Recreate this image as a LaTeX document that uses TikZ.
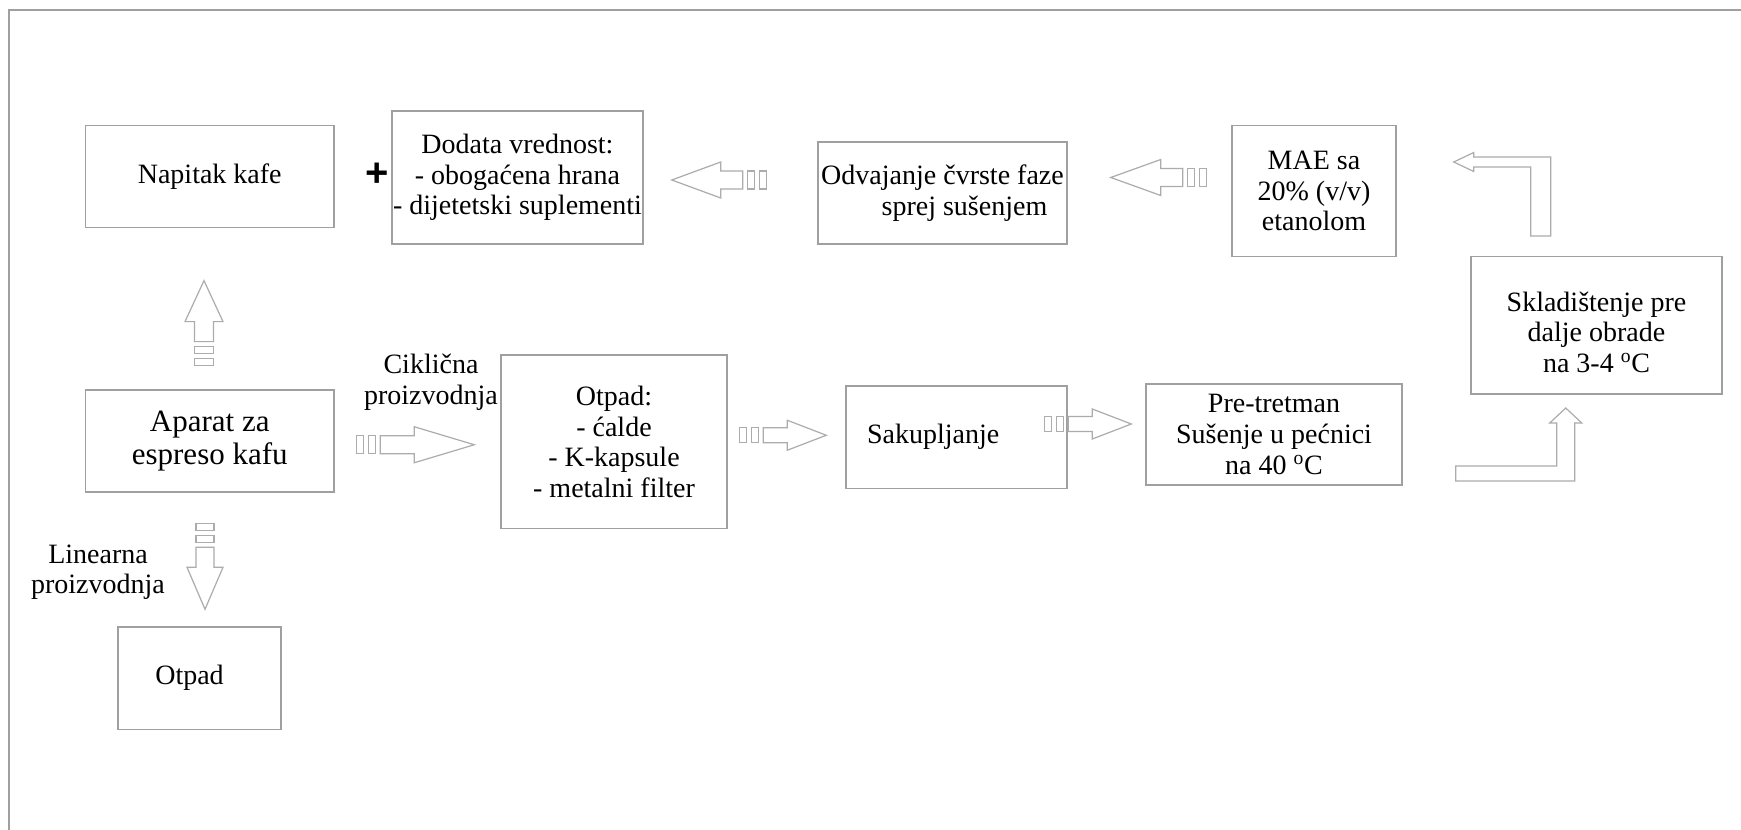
\documentclass[tikz,border=0pt]{standalone}
\usepackage{fontspec}
\setmainfont{Liberation Serif}
\setsansfont{Liberation Sans}
\usetikzlibrary{calc}

\definecolor{boxgray}{RGB}{160,160,160}
\definecolor{arrowgray}{RGB}{172,172,172}

\tikzset{
	pics/hollow arrow/.style n args={3}{code={
		\draw[arrowline] (0,0) -- (-#1,#3) -- (-#1,#3/2) -- (-#1-#2,#3/2) -- (-#1-#2,-#3/2) -- (-#1,-#3/2) -- (-#1,-#3) -- cycle;
		\draw[arrowline] (-#1-#2-5,-#3/2) rectangle ++(-7,#3);
		\draw[arrowline] (-#1-#2-17,-#3/2) rectangle ++(-7,#3);
	}}
}

\begin{document}
\begin{tikzpicture}[x=0.75pt,y=-0.75pt,
	box/.style 2 args={draw=boxgray,line width=1.1pt,fill=white,align=center,inner sep=0pt,minimum width=#1*0.75pt,minimum height=#2*0.75pt,font=\fontsize{21}{22.9}\selectfont},
	lbl/.style={align=center,font=\fontsize{21}{22.9}\selectfont},
	arrowline/.style={draw=arrowgray,line width=0.9pt,line join=miter}]
		\useasboundingbox (0,0) rectangle (1741,830);
		\fill[white] (0,0) rectangle (1741,830);
		\draw[boxgray,line width=1.1pt] (9,830) -- (9,10) -- (1741,10);
		
		\node[box={248.5}{102}] (napitak) at (209.75,176.5) {Napitak kafe};
		\node[box={251}{133}] (dodata) at (517.5,177.5) {Dodata vrednost:\\- obogaćena hrana\\- dijetetski suplementi};
		\node[box={249}{102}] (odvajanje) at (942.5,193) {Odvajanje čvrste faze\\\hspace*{33pt}sprej sušenjem};
		\node[box={164}{131}] (mae) at (1314,191) {MAE sa\\20\% (v/v)\\etanolom};
		\node[box={251}{137.5}] (skladistenje) at (1596.5,325.25) {};
		\node[lbl] (skladistenjetxt) at ($(skladistenje.center)+(0,7)$) {Skladištenje pre\\dalje obrade\\na 3-4 \textsuperscript{o}C};
		\node[box={248.5}{102},font=\fontsize{23.25}{24.8}\selectfont] (aparat) at (209.75,441) {Aparat za\\espreso kafu};
		\node[box={226}{173.5}] (otpadlist) at (614,441.75) {Otpad:\\- ćalde\\- K-kapsule\\- metalni filter};
		\node[box={221}{102.5}] (sakupljanje) at (956.5,437.25) {Sakupljanje\hspace*{35pt}};
		\node[box={256}{101}] (pretretman) at (1274,434.5) {Pre-tretman\\Sušenje u pećnici\\na 40 \textsuperscript{o}C};
		\node[box={163}{102.5}] (otpad) at (199.5,678.25) {Otpad\hspace*{15pt}};
		
		\node[lbl] (ciklicna) at (431,382) {Ciklična\\proizvodnja};
		\node[lbl] (linearna) at (98,572) {Linearna\\proizvodnja};
		\node[font=\sffamily\bfseries\fontsize{30}{30}\selectfont] (plus) at (377.5,175) {+};
		
		\pic[rotate=90] at ($(napitak.south)+(-5.75,52.4)$) {hollow arrow={41}{20}{19}};
		\pic[rotate=-90] at ($(otpad.north)+(5.5,-17)$) {hollow arrow={42}{20}{18}};
		\pic at ($(otpadlist.west)+(-26,3)$) {hollow arrow={60}{34}{18}};
		\pic at ($(sakupljanje.west)+(-19,-2)$) {hollow arrow={39}{24}{15}};
		\pic at ($(pretretman.west)+(-14,-10.5)$) {hollow arrow={39}{24}{15}};
		\pic[rotate=180] at ($(odvajanje.east)+(43,-15.5)$) {hollow arrow={50}{22}{18}};
		\pic[rotate=180] at ($(dodata.east)+(28,2.5)$) {hollow arrow={49}{22}{18}};
		
		\draw[arrowline] ($(pretretman.east)+(53,31.5)$) -- ++(101,0) -- ++(0,-43) -- ++(-7,0) -- ++(16,-15) -- ++(16,15) -- ++(-7,0) -- ++(0,58) -- ++(-119,0) -- cycle;
		\draw[arrowline] ($(mae.east)+(57,-29)$) -- ++(20,-9.5) -- ++(0,4.5) -- ++(77,0) -- ++(0,79) -- ++(-20,0) -- ++(0,-69) -- ++(-57,0) -- ++(0,4.5) -- cycle;
	\end{tikzpicture}
\end{document}
